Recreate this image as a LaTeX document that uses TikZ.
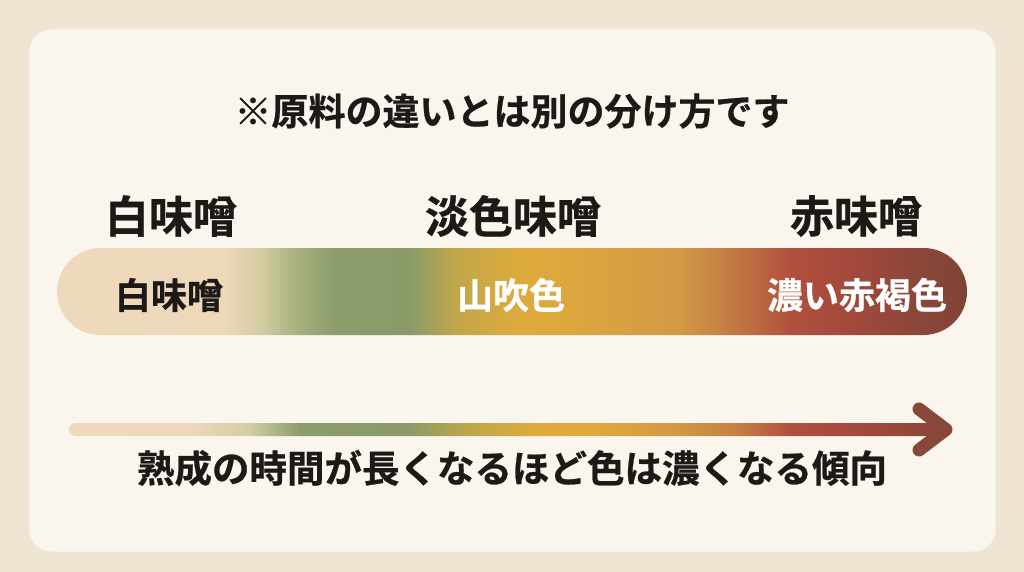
\documentclass[tikz,border=0pt]{standalone}
\usepackage{fontspec}
\newfontfamily\jp{Noto Sans CJK JP}[BoldFont=* Bold, BoldFeatures={FakeBold=0.7}]
\usetikzlibrary{calc}
\definecolor{outerbg}{HTML}{F0E5D3}
\definecolor{cardbg}{HTML}{FAF6EE}
\definecolor{cardline}{HTML}{EEE5D7}
\definecolor{ink}{HTML}{1C1917}
\definecolor{tipcol}{HTML}{87483A}
% bar colours
\definecolor{bA}{HTML}{EFD9BC}
\definecolor{bB}{HTML}{EDD8BA}
\definecolor{bC}{HTML}{D3CDA2}
\definecolor{bD}{HTML}{AAB17F}
\definecolor{bE}{HTML}{8B9D6B}
\definecolor{bF}{HTML}{8A9B68}
\definecolor{bG}{HTML}{C1A64A}
\definecolor{bH}{HTML}{DEAB3C}
\definecolor{bI}{HTML}{DDA83E}
\definecolor{bJ}{HTML}{D29A45}
\definecolor{bK}{HTML}{C58344}
\definecolor{bL}{HTML}{B1503E}
\definecolor{bM}{HTML}{A54A3C}
\definecolor{bN}{HTML}{874639}
\definecolor{bO}{HTML}{7F4436}
\pgfdeclarehorizontalshading{barshade}{100bp}{%
color(0bp)=(bA); color(25bp)=(bA); color(34.2bp)=(bB); color(36.2bp)=(bC);
color(38.1bp)=(bD); color(40.3bp)=(bE); color(44.4bp)=(bF); color(46.9bp)=(bG);
color(50.4bp)=(bH); color(52.6bp)=(bI); color(59.2bp)=(bJ); color(61.4bp)=(bK);
color(65.3bp)=(bL); color(68bp)=(bM); color(73bp)=(bN); color(75bp)=(bO); color(100bp)=(bO)}
\pgfdeclarehorizontalshading{arrowshade}{100bp}{%
color(0bp)=(bA); color(25bp)=(bA); color(31.9bp)=(bB); color(35.3bp)=(bC);
color(38.2bp)=(bE); color(44.4bp)=(bF); color(47.9bp)=(bG); color(51.9bp)=(bH);
color(55.3bp)=(bI); color(59.3bp)=(bJ); color(62.9bp)=(bK); color(66.1bp)=(bL);
color(69.5bp)=(bM); color(75bp)=(bN); color(100bp)=(bN)}
\tikzset{
  title/.style={font=\jp\bfseries\fontsize{37}{40}\selectfont, text=ink, inner sep=0pt},
  heading/.style={font=\jp\bfseries\fontsize{44}{48}\selectfont, text=ink, inner sep=0pt},
  barlabel/.style={font=\jp\bfseries\fontsize{36}{40}\selectfont, inner sep=0pt},
  note/.style={font=\jp\bfseries\fontsize{37.5}{40}\selectfont, text=ink, inner sep=0pt},
}
\begin{document}
\begin{tikzpicture}[x=1pt,y=-1pt]
\useasboundingbox (0,0) rectangle (1024,572);
\fill[outerbg] (0,0) rectangle (1024,572);
\filldraw[fill=cardbg, draw=cardline, line width=0.8pt, rounded corners=22pt] (29,29) rectangle (996,552);
% title
\node[title] (title) at (512,111) {※原料の違いとは別の分け方です};
% headings
\node[heading] (hwhite) at (171,216) {白味噌};
\node[heading] (hlight) at (513,216) {淡色味噌};
\node[heading] (hred) at (856,216) {赤味噌};
% colour bar
\shade[shading=barshade, rounded corners=43.5pt] (57,248) rectangle (967,335);
\node[barlabel, text=ink] (cwhite) at (169,295) {白味噌};
\node[barlabel, text=white] (clight) at (511,295) {山吹色};
\node[barlabel, text=white] (cred) at (857,295) {濃い赤褐色};
% arrow
\shade[shading=arrowshade, rounded corners=6.5pt] (69,423) rectangle (946,436);
\coordinate (tipA) at (919,409);
\coordinate (tipB) at (946,429.5);
\coordinate (tipC) at (919,450);
\draw[tipcol, line width=13pt, line cap=round, line join=round] (tipA) -- (tipB) -- (tipC);
\node[note] (caption) at (512,468) {熟成の時間が長くなるほど色は濃くなる傾向};
\end{tikzpicture}
\end{document}
